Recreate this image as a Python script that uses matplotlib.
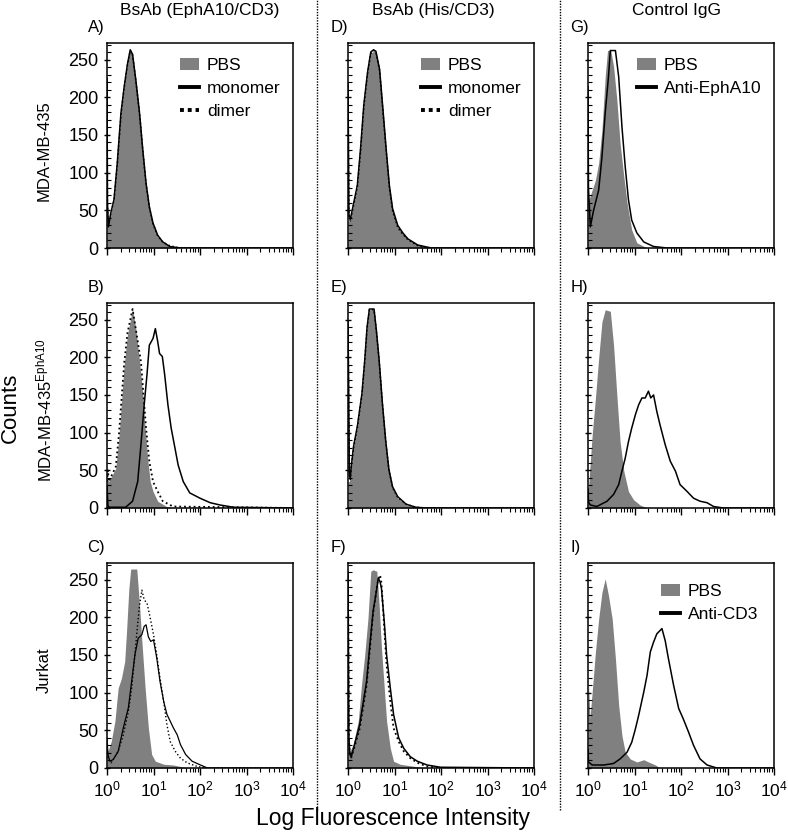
import numpy as np
import matplotlib
matplotlib.use("Agg")
import matplotlib.pyplot as plt
from matplotlib.lines import Line2D
from matplotlib.patches import Patch
from matplotlib.ticker import LogLocator, MultipleLocator, NullFormatter

plt.rcParams['font.family'] = ['Liberation Sans', 'DejaVu Sans']
plt.rcParams['mathtext.fontset'] = 'custom'
plt.rcParams['mathtext.rm'] = 'Liberation Sans'
plt.rcParams['mathtext.it'] = 'Liberation Sans'

# histogram data: log10 of fluorescence, counts
A_PBS_LX = [0.0, 0.01, 0.08, 0.15, 0.22, 0.30, 0.37, 0.44, 0.50, 0.55, 0.62, 0.70, 0.77, 0.84, 0.91, 0.99, 1.09, 1.20, 1.35, 1.57, 4.0]
A_PBS_Y = [30, 31, 44, 62, 110, 177, 212, 243, 263, 256, 221, 177, 128, 84, 53, 31, 15, 7, 2, 0, 0]
A_LINE_LX = [0.0, 0.01, 0.03, 0.08, 0.15, 0.22, 0.30, 0.37, 0.44, 0.50, 0.55, 0.62, 0.70, 0.77, 0.84, 0.91, 0.99, 1.09, 1.20, 1.35, 1.57, 4.0]
A_MONO_Y = [225, 60, 28, 46, 64, 112, 179, 214, 244, 263, 257, 223, 179, 130, 86, 55, 33, 17, 8, 2, 0, 0]
A_DIMER_Y = [220, 55, 30, 45, 63, 110, 176, 213, 243, 262, 256, 222, 178, 129, 85, 54, 32, 16, 8, 3, 0, 0]

B_PBS_LX = [0.0, 0.04, 0.19, 0.26, 0.37, 0.44, 0.55, 0.62, 0.70, 0.77, 0.82, 0.88, 0.93, 0.99, 1.09, 1.28, 1.42, 4.0]
B_PBS_Y = [40, 35, 53, 97, 190, 230, 264, 238, 194, 150, 106, 62, 35, 22, 9, 2, 0, 0]
B_DIMER_LX = [0.0, 0.02, 0.04, 0.19, 0.26, 0.37, 0.44, 0.55, 0.60, 0.73, 0.84, 0.91, 0.99, 1.09, 1.20, 1.42, 4.0]
B_DIMER_Y = [35, 50, 35, 55, 100, 192, 232, 264, 245, 194, 106, 62, 35, 22, 9, 2, 0]
B_MONO_LX = [0.0, 0.02, 0.05, 0.40, 0.55, 0.66, 0.73, 0.80, 0.86, 0.91, 0.99, 1.04, 1.09, 1.13, 1.19, 1.24, 1.31, 1.38, 1.46, 1.53, 1.64, 1.78, 2.00, 2.22, 2.43, 2.72, 4.0]
B_MONO_Y = [30, 3, 1, 1, 9, 35, 84, 137, 177, 216, 225, 238, 221, 205, 201, 177, 137, 106, 80, 57, 35, 20, 13, 7, 4, 1, 0]

C_PBS_LX = [0.0, 0.02, 0.09, 0.17, 0.24, 0.31, 0.38, 0.42, 0.47, 0.51, 0.64, 0.70, 0.75, 0.82, 0.89, 0.96, 1.04, 1.22, 1.43, 1.65, 1.87, 4.0]
C_PBS_Y = [35, 22, 35, 62, 106, 119, 141, 181, 238, 264, 264, 216, 168, 106, 53, 18, 9, 5, 4, 1, 0, 0]
C_MONO_LX = [0.0, 0.02, 0.06, 0.13, 0.24, 0.35, 0.46, 0.53, 0.60, 0.67, 0.75, 0.80, 0.84, 0.89, 0.94, 1.00, 1.07, 1.14, 1.22, 1.29, 1.36, 1.43, 1.51, 1.58, 1.69, 1.83, 2.01, 2.16, 4.0]
C_MONO_Y = [40, 18, 9, 11, 22, 53, 80, 115, 150, 172, 177, 188, 190, 174, 168, 170, 146, 115, 88, 71, 62, 53, 44, 31, 18, 9, 4, 0, 0]
C_DIMER_LX = [0.0, 0.02, 0.09, 0.24, 0.35, 0.46, 0.53, 0.60, 0.65, 0.70, 0.75, 0.80, 0.86, 0.93, 1.00, 1.07, 1.14, 1.22, 1.29, 1.36, 1.47, 1.58, 1.72, 1.94, 2.16, 4.0]
C_DIMER_Y = [30, 13, 7, 22, 44, 75, 106, 150, 185, 216, 236, 223, 219, 199, 177, 150, 119, 88, 57, 35, 22, 13, 7, 2, 0, 0]

D_PBS_LX = [0.0, 0.05, 0.20, 0.27, 0.34, 0.42, 0.49, 0.60, 0.68, 0.75, 0.82, 0.89, 0.96, 1.07, 1.18, 1.29, 1.50, 1.79, 4.0]
D_PBS_Y = [35, 37, 81, 130, 188, 232, 259, 262, 236, 183, 130, 81, 50, 28, 19, 11, 4, 0, 0]
D_LINE_LX = [0.0, 0.02, 0.05, 0.20, 0.27, 0.34, 0.42, 0.49, 0.55, 0.60, 0.68, 0.75, 0.82, 0.89, 0.96, 1.07, 1.18, 1.29, 1.50, 1.79, 4.0]
D_MONO_Y = [219, 45, 38, 83, 132, 190, 233, 260, 263, 261, 237, 185, 132, 83, 52, 30, 20, 12, 4, 0, 0]
D_DIMER_Y = [215, 42, 36, 80, 128, 186, 231, 258, 262, 260, 235, 182, 129, 80, 49, 27, 18, 11, 3, 0, 0]

E_PBS_LX = [0.0, 0.03, 0.07, 0.12, 0.20, 0.25, 0.30, 0.36, 0.41, 0.46, 0.56, 0.61, 0.67, 0.74, 0.81, 0.88, 0.96, 1.07, 1.25, 1.46, 1.68, 4.0]
E_PBS_Y = [35, 35, 53, 80, 106, 128, 150, 194, 238, 263, 263, 234, 194, 137, 88, 49, 26, 13, 4, 1, 0, 0]
E_LINE_LX = [0.0, 0.015, 0.03, 0.05, 0.07, 0.12, 0.20, 0.25, 0.30, 0.36, 0.41, 0.46, 0.56, 0.61, 0.67, 0.74, 0.81, 0.88, 0.96, 1.07, 1.25, 1.46, 1.68, 4.0]
E_MONO_Y = [247, 150, 45, 40, 55, 82, 108, 130, 152, 196, 240, 264, 264, 236, 196, 139, 90, 51, 28, 15, 5, 1, 0, 0]
E_DIMER_Y = [243, 145, 43, 38, 54, 80, 106, 128, 150, 194, 238, 263, 263, 235, 195, 138, 89, 50, 27, 14, 5, 1, 0, 0]

F_PBS_LX = [0.0, 0.04, 0.11, 0.22, 0.29, 0.36, 0.43, 0.49, 0.54, 0.62, 0.67, 0.72, 0.78, 0.83, 0.91, 0.98, 1.12, 1.34, 1.56, 1.78, 4.0]
F_PBS_Y = [30, 22, 31, 62, 110, 150, 199, 261, 263, 261, 216, 159, 106, 62, 26, 9, 5, 3, 1, 0, 0]
F_LINE_LX = [0.0, 0.02, 0.04, 0.07, 0.14, 0.25, 0.33, 0.40, 0.47, 0.54, 0.62, 0.65, 0.69, 0.72, 0.78, 0.83, 0.91, 0.98, 1.09, 1.20, 1.34, 1.49, 1.70, 1.99, 4.0]
F_MONO_Y = [260, 40, 18, 15, 31, 57, 88, 115, 163, 208, 238, 252, 247, 238, 194, 150, 106, 71, 40, 26, 15, 9, 4, 1, 0]
F_DIMER_Y = [255, 38, 16, 14, 28, 52, 82, 110, 158, 205, 240, 250, 256, 245, 185, 137, 88, 53, 35, 22, 13, 7, 2, 0, 0]

G_PBS_LX = [0.0, 0.02, 0.09, 0.16, 0.23, 0.30, 0.37, 0.42, 0.49, 0.55, 0.62, 0.69, 0.77, 0.84, 0.94, 1.05, 1.27, 4.0]
G_PBS_Y = [68, 64, 77, 90, 113, 157, 227, 262, 262, 241, 197, 139, 95, 60, 24, 7, 0, 0]
G_ANTI_LX = [0.0, 0.01, 0.05, 0.12, 0.23, 0.30, 0.37, 0.44, 0.48, 0.59, 0.66, 0.73, 0.80, 0.87, 0.94, 1.05, 1.20, 1.41, 1.70, 4.0]
G_ANTI_Y = [214, 80, 28, 50, 77, 121, 179, 227, 262, 262, 227, 161, 108, 64, 37, 20, 8, 2, 0, 0]

H_PBS_LX = [0.0, 0.01, 0.09, 0.16, 0.23, 0.30, 0.37, 0.48, 0.55, 0.62, 0.69, 0.77, 0.87, 0.98, 1.12, 1.27, 4.0]
H_PBS_Y = [30, 26, 97, 146, 199, 247, 263, 261, 216, 150, 88, 49, 22, 11, 4, 0, 0]
H_ANTI_LX = [0.0, 0.01, 0.05, 0.19, 0.41, 0.55, 0.66, 0.73, 0.80, 0.87, 0.94, 1.02, 1.09, 1.16, 1.23, 1.30, 1.35, 1.41, 1.48, 1.55, 1.66, 1.77, 1.88, 1.98, 2.13, 2.27, 2.41, 2.56, 2.70, 2.91, 4.0]
H_ANTI_Y = [25, 8, 4, 2, 9, 18, 31, 49, 66, 88, 106, 124, 137, 146, 146, 155, 146, 150, 128, 110, 84, 62, 49, 31, 22, 13, 9, 7, 2, 0, 0]

I_PBS_LX = [0.0, 0.02, 0.04, 0.09, 0.16, 0.23, 0.30, 0.37, 0.44, 0.52, 0.59, 0.66, 0.73, 0.80, 0.91, 1.05, 1.20, 1.30, 1.45, 1.55, 4.0]
I_PBS_Y = [40, 110, 65, 101, 154, 198, 233, 251, 229, 198, 145, 83, 43, 21, 12, 8, 11, 8, 4, 0, 0]
I_ANTI_LX = [0.0, 0.01, 0.09, 0.34, 0.55, 0.69, 0.84, 0.94, 1.02, 1.09, 1.20, 1.27, 1.34, 1.41, 1.48, 1.59, 1.66, 1.73, 1.84, 1.95, 2.05, 2.16, 2.27, 2.41, 2.56, 2.77, 4.0]
I_ANTI_Y = [25, 8, 4, 4, 6, 12, 21, 34, 52, 70, 101, 123, 154, 167, 178, 185, 169, 145, 110, 79, 65, 48, 30, 12, 4, 0, 0]

COL_TITLES = ["BsAb (EphA10/CD3)", "BsAb (His/CD3)", "Control IgG"]
ROW_LABELS = ["MDA-MB-435", r"MDA-MB-435$^{\rm EphA10}$", "Jurkat"]
LETTERS = [["A)", "D)", "G)"], ["B)", "E)", "H)"], ["C)", "F)", "I)"]]
XTICK_LABELS = [r"$\mathregular{10^{0}}$", r"$\mathregular{10^{1}}$", r"$\mathregular{10^{2}}$",
                r"$\mathregular{10^{3}}$", r"$\mathregular{10^{4}}$"]

GRAY = "#808080"
W, H = 788, 835

fig = plt.figure(figsize=(W / 100, H / 100), dpi=100)

col_left = [107, 348, 588]
row_top = [43, 303, 563]
pw, ph = 186, 205

leg_kw = dict(loc='upper right', frameon=False, fontsize=12.5, handlelength=1.1,
              handletextpad=0.45, labelspacing=0.45, borderaxespad=0.2)


def make_ax(r, c):
    ax = fig.add_axes([col_left[c] / W, 1 - (row_top[r] + ph) / H, pw / W, ph / H])
    ax.set_xscale('log')
    ax.set_xlim(1, 1e4)
    ax.set_ylim(0, 272)
    ax.xaxis.set_major_locator(LogLocator(base=10, numticks=10))
    ax.xaxis.set_minor_locator(LogLocator(base=10, subs=np.arange(2, 10), numticks=10))
    ax.xaxis.set_minor_formatter(NullFormatter())
    ax.yaxis.set_major_locator(MultipleLocator(50))
    ax.yaxis.set_minor_locator(MultipleLocator(10))
    ax.tick_params(axis='x', which='major', direction='out', length=5, width=1)
    ax.tick_params(axis='x', which='minor', direction='out', length=3, width=0.8)
    ax.tick_params(axis='y', which='major', direction='inout', length=5, width=1)
    ax.tick_params(axis='y', which='minor', direction='in', length=3, width=0.8)
    ax.tick_params(axis='y', labelsize=13)
    ax.tick_params(axis='x', labelsize=12.5)
    for s in ax.spines.values():
        s.set_linewidth(1.1)
    if r == 2:
        ax.set_xticks([1, 10, 100, 1000, 10000])
        ax.set_xticklabels(XTICK_LABELS)
    else:
        ax.set_xticklabels([])
    if c != 0:
        ax.set_yticklabels([])
    ax.text(-0.105 if c == 0 else -0.095, 1.075, LETTERS[r][c], transform=ax.transAxes,
            fontsize=12, ha='left', va='center')
    return ax


def fill(ax, lx, y):
    ax.fill_between(10 ** np.array(lx), y, 0, color=GRAY, lw=0)


def line(ax, lx, y, ls='-', lw=1.1, color='black'):
    ax.plot(10 ** np.array(lx), y, color=color, ls=ls, lw=lw)


mono_h = Line2D([], [], color='black', lw=2.8)
dimer_h = Line2D([], [], color='black', lw=2.8, ls=(0, (1, 1)))
pbs_h = Patch(facecolor=GRAY, edgecolor='none')

# A
ax = make_ax(0, 0)
fill(ax, A_PBS_LX, A_PBS_Y)
line(ax, A_LINE_LX, A_MONO_Y)
line(ax, A_LINE_LX, A_DIMER_Y, ls=':')
ax.legend([pbs_h, mono_h, dimer_h], ["PBS", "monomer", "dimer"],
          bbox_to_anchor=(0.99, 0.98), **leg_kw)

# B
ax = make_ax(1, 0)
fill(ax, B_PBS_LX, B_PBS_Y)
line(ax, B_DIMER_LX, B_DIMER_Y, ls=':', lw=1.3)
line(ax, B_MONO_LX, B_MONO_Y)

# C
ax = make_ax(2, 0)
fill(ax, C_PBS_LX, C_PBS_Y)
line(ax, C_DIMER_LX, C_DIMER_Y, ls=':', lw=1.0)
line(ax, C_MONO_LX, C_MONO_Y, lw=0.9)

# D
ax = make_ax(0, 1)
fill(ax, D_PBS_LX, D_PBS_Y)
line(ax, D_LINE_LX, D_MONO_Y)
line(ax, D_LINE_LX, D_DIMER_Y, ls=':')
ax.legend([pbs_h, mono_h, dimer_h], ["PBS", "monomer", "dimer"],
          bbox_to_anchor=(0.99, 0.98), **leg_kw)

# E
ax = make_ax(1, 1)
fill(ax, E_PBS_LX, E_PBS_Y)
line(ax, E_LINE_LX, E_MONO_Y)
line(ax, E_LINE_LX, E_DIMER_Y, ls=':')

# F
ax = make_ax(2, 1)
fill(ax, F_PBS_LX, F_PBS_Y)
line(ax, F_LINE_LX, F_MONO_Y)
line(ax, F_LINE_LX, F_DIMER_Y, ls=':', lw=1.3)

# G
ax = make_ax(0, 2)
fill(ax, G_PBS_LX, G_PBS_Y)
line(ax, G_ANTI_LX, G_ANTI_Y)
ax.legend([pbs_h, mono_h], ["PBS", "Anti-EphA10"],
          bbox_to_anchor=(0.99, 0.98), **leg_kw)

# H
ax = make_ax(1, 2)
fill(ax, H_PBS_LX, H_PBS_Y)
line(ax, H_ANTI_LX, H_ANTI_Y)

# I
ax = make_ax(2, 2)
fill(ax, I_PBS_LX, I_PBS_Y)
line(ax, I_ANTI_LX, I_ANTI_Y)
ax.legend([pbs_h, mono_h], ["PBS", "Anti-CD3"],
          bbox_to_anchor=(0.97, 0.95), **leg_kw)

# column titles
for x, t in zip([200, 433, 677], COL_TITLES):
    fig.text(x / W, 1 - 11 / H, t, ha='center', va='center', fontsize=12.5)

# row labels
for r, t in enumerate(ROW_LABELS):
    yc = row_top[r] + ph / 2 + 5
    fig.text(44 / W, 1 - yc / H, t, ha='center', va='center', rotation=90, fontsize=12)

fig.text(10 / W, 1 - 408 / H, "Counts", ha='center', va='center', rotation=90, fontsize=16)
fig.text(393 / W, 1 - 818 / H, "Log Fluorescence Intensity", ha='center', va='center', fontsize=16.5)

# dotted separators
for x in [317, 560]:
    fig.add_artist(Line2D([x / W, x / W], [1 - 810 / H, 1.0], color='black', lw=1.0,
                          ls=(0, (1, 1)), transform=fig.transFigure))

fig.savefig("out.png", dpi=100)
